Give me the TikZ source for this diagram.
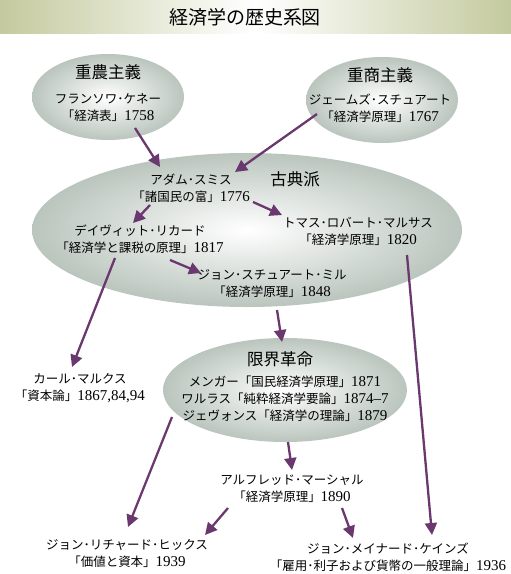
\documentclass[tikz,border=0pt]{standalone}
\usepackage{fontspec}
\setmainfont{Noto Sans CJK JP}
\newfontfamily\lat{Liberation Serif}
\usetikzlibrary{arrows.meta,shapes.geometric}
\newcommand\yr[1]{{\lat\fontsize{15}{17}\selectfont #1}}
\definecolor{arr}{RGB}{106,56,110}
\definecolor{elo}{RGB}{186,197,189}
\definecolor{ban}{RGB}{196,202,158}
\begin{document}
\begin{tikzpicture}[x=1pt,y=-1pt,
 blob/.style={ellipse, inner sep=0pt, shading=radial, inner color=white, outer color=elo},
 lbl/.style={align=center, inner sep=0pt, font=\fontsize{12.5}{17}\selectfont},
 head/.style={inner sep=0pt, font=\fontsize{16.5}{18}\selectfont},
 link/.style={draw=arr, line width=2.3pt, -{Triangle[length=12pt,width=12pt]}}]
\useasboundingbox (0,0) rectangle (511,574);
% banner
\shade[left color=ban, right color=ban, middle color=white] (0,0) rectangle (511,33);
\node[inner sep=0pt, font=\fontsize{19}{20}\selectfont] (title) at (245,17) {経済学の歴史系図};
% ellipses
\node[blob, minimum width=152pt, minimum height=86pt] (physio) at (108,97) {};
\node[blob, minimum width=152pt, minimum height=86pt] (merc) at (382,100) {};
\node[blob, minimum width=430pt, minimum height=154pt] (classic) at (247,230) {};
\node[blob, minimum width=244pt, minimum height=104pt] (margin) at (285,390) {};
% texts
\node[head] (physioh) at (108,72) {重農主義};
\node[lbl] (quesnay) at (108,108) {フランソワ･ケネー\\「経済表」\yr{1758}};
\node[head] (merch) at (380,75) {重商主義};
\node[lbl] (steuart) at (380,108) {ジェームズ･スチュアート\\「経済学原理」\yr{1767}};
\node[head] (classich) at (295,179) {古典派};
\node[lbl] (smith) at (191,188) {アダム･スミス\\「諸国民の富」\yr{1776}};
\node[lbl] (ricardo) at (140,239) {デイヴィット･リカード\\「経済学と課税の原理」\yr{1817}};
\node[lbl] (malthus) at (358,231) {トマス･ロバート･マルサス\\「経済学原理」\yr{1820}};
\node[lbl] (mill) at (272,284) {ジョン･スチュアート･ミル\\「経済学原理」\yr{1848}};
\node[head] (marginh) at (280,359) {限界革命};
\node[lbl] (marg) at (285,399) {メンガー「国民経済学原理」\yr{1871}\\ワルラス「純粋経済学要論」\yr{1874–7}\\ジェヴォンス「経済学の理論」\yr{1879}};
\node[lbl] (marx) at (80,388) {カール･マルクス\\「資本論」\yr{1867,84,94}};
\node[lbl] (marshall) at (292,489) {アルフレッド･マーシャル\\「経済学原理」\yr{1890}};
\node[lbl] (hicks) at (127,553) {ジョン･リチャード･ヒックス\\「価値と資本」\yr{1939}};
\node[lbl] (keynes) at (388,557) {ジョン･メイナード･ケインズ\\「雇用･利子および貨幣の一般理論」\yr{1936}};
% arrow ends
\coordinate (a1s) at (135,128); \coordinate (a1e) at (160,167);
\coordinate (a2s) at (317,114); \coordinate (a2e) at (235,172);
\coordinate (a3s) at (150,205); \coordinate (a3e) at (133,223);
\coordinate (a4s) at (253,202); \coordinate (a4e) at (282,215);
\coordinate (a5s) at (170,260); \coordinate (a5e) at (201,273);
\coordinate (a6s) at (115,258); \coordinate (a6e) at (72,367);
\coordinate (a7s) at (277,310); \coordinate (a7e) at (282,342);
\coordinate (a8s) at (407,255); \coordinate (a8e) at (432,535);
\coordinate (a9s) at (172,417); \coordinate (a9e) at (128,527);
\coordinate (a10s) at (288,442); \coordinate (a10e) at (292,470);
\coordinate (a11s) at (228,508); \coordinate (a11e) at (205,535);
\coordinate (a12s) at (342,508); \coordinate (a12e) at (353,538);
\foreach \i in {1,...,12} {\draw[link] (a\i s) -- (a\i e);}
\end{tikzpicture}
\end{document}
